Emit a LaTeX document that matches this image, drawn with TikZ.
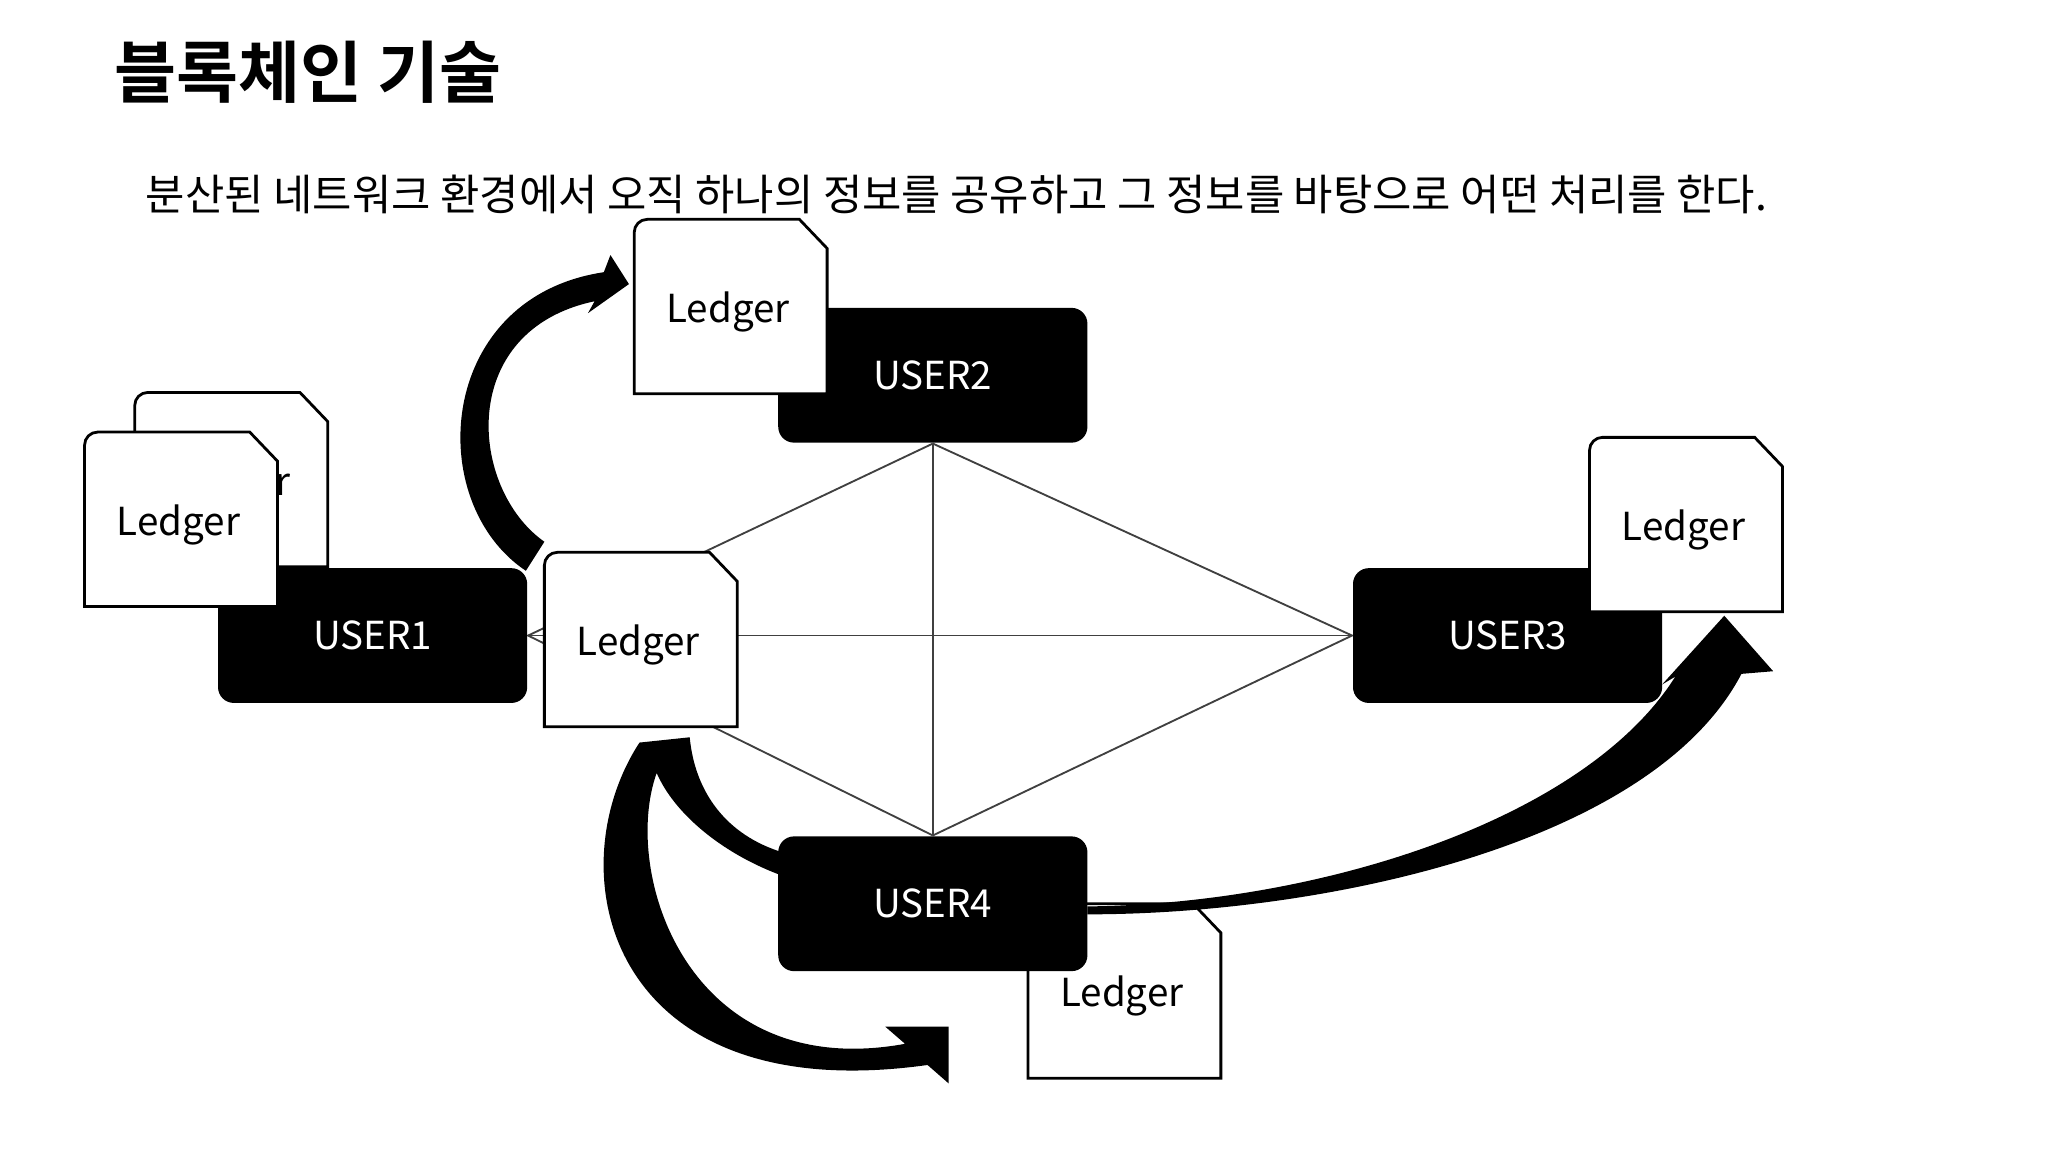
\documentclass[tikz,border=0pt]{standalone}
\usepackage{fontspec}
\setmainfont{Noto Sans CJK KR}
\newfontfamily\cjkbold{Noto Sans CJK KR Bold}
\usetikzlibrary{calc}
\pgfdeclarelayer{bg}
\pgfsetlayers{bg,main}
\tikzset{
 user/.style={fill=black,rounded corners=3.4pt,minimum width=234*0.01cm,minimum height=102*0.01cm,text=white,font=\fontsize{8.3}{10}\selectfont,inner sep=0},
 link/.style={draw=black!75,line width=0.4pt},
 doc/.style={fill=white,draw=black,line width=0.6pt},
 bigarrow/.style={fill=black}
}
% ledger sheet with a cut corner
\newcommand\ledgerdoc[2]{%
 \coordinate (#1-c) at (#2);
 \filldraw[doc] ($(#1-c)+(-73,66)$) {[rounded corners=2.8pt] -- ($(#1-c)+(-73,-66)$)} -- ($(#1-c)+(52,-66)$) -- ($(#1-c)+(73,-44)$) -- ($(#1-c)+(73,66)$) -- cycle;
 \node[font=\fontsize{8.3}{10}\selectfont] (#1) at ($(#1-c)+(-2,4)$) {Ledger};
}
\begin{document}
\begin{tikzpicture}[x=0.01cm,y=-0.01cm]
 \useasboundingbox (0,0) rectangle (1550,872);
 % title
 \node[anchor=west,font=\cjkbold\fontsize{14.5}{17}\selectfont] (title) at (74,55) {블록체인 기술};
 \node[anchor=west,font=\fontsize{9.2}{12}\selectfont] (sub) at (98,147) {분산된 네트워크 환경에서 오직 하나의 정보를 공유하고 그 정보를 바탕으로 어떤 처리를 한다.};
 % ledger under USER4
 \ledgerdoc{l4}{851,750}
 % users
 \node[user] (u1) at (282,481) {USER1};
 \node[user] (u2) at (706,284) {USER2};
 \node[user] (u3) at (1141,481) {USER3};
 \node[user] (u4) at (706,684) {USER4};
 % network
 \begin{pgfonlayer}{bg}
  \draw[link] (u1.east) -- (u3.west);
  \draw[link] (u2.south) -- (u4.north);
  \draw[link] (u2.south) -- (u3.west) -- (u4.north);
  \draw[link] (u2.south) -- (u1.east) -- (u4.north);
 \end{pgfonlayer}
 % ledgers
 \ledgerdoc{l2}{553,232}
 \ledgerdoc{l1b}{175,363}
 \ledgerdoc{l1}{137,393}
 \ledgerdoc{l3}{1276,397}
 \ledgerdoc{lm}{485,484}
 % copies
 \fill[bigarrow] (412,410) .. controls (355,370) and (345,250) .. (450,228) -- (445,237) -- (476,215) -- (462,193) -- (457,206) .. controls (330,225) and (320,380) .. (398,432) -- cycle;
 \fill[bigarrow] (823,686) .. controls (1000,684) and (1200,620) .. (1268,512) -- (1258,518) -- (1305,466) -- (1342,508) -- (1318,510) .. controls (1250,640) and (1000,692) .. (823,692) -- cycle;
 \fill[bigarrow] (484,562) -- (522,558) .. controls (526,600) and (550,632) .. (592,645) -- (590,662) .. controls (545,645) and (510,615) .. (497,585) .. controls (470,660) and (520,820) .. (685,790) -- (670,777) -- (718,777) -- (718,820) -- (702,806) .. controls (460,840) and (420,660) .. (484,562) -- cycle;
\end{tikzpicture}
\end{document}
